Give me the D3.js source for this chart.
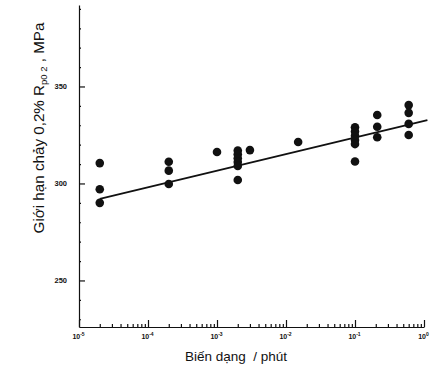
<!DOCTYPE html>
<html><head><meta charset="utf-8">
<script src="https://cdn.jsdelivr.net/npm/d3@7"></script>
<style>body{margin:0;background:#fff}svg{display:block}text{font-family:"Liberation Sans",Arial,sans-serif;fill:#111}</style>
</head><body>
<svg id="c" width="436" height="375"></svg>
<script>
// Data
const strainRate = [2e-5,2e-5,2e-5, 2e-4,2e-4,2e-4, 1e-3, 2e-3,2e-3,2e-3,2e-3,2e-3,2e-3, 3e-3, 1.5e-2,
  1e-1,1e-1,1e-1,1e-1,1e-1,1e-1, 2.1e-1,2.1e-1,2.1e-1, 6e-1,6e-1,6e-1,6e-1];
const yieldStress = [310.5,297,290, 311.2,306.6,299.7, 316.2, 317,315,313,311,309,301.8, 317.2, 321.4,
  329,326.8,324.6,322.4,320.3,311.3, 335.3,329.2,323.8, 340.4,336.4,330.7,325];
const fitRate = [2e-5, 1.12];
const fitStress = [292, 332.7];
const xMajorTicks = [1e-5,1e-4,1e-3,1e-2,1e-1,1];
const xTickExp = ["-5","-4","-3","-2","-1","0"];
const yMajorTicks = [250,300,350];
const yLabel = "Giới hạn chảy 0,2% R";
const yLabelSub = "p0 2";
const yLabelEnd = " , MPa";
const xLabel = "Biến dạng\u00a0\u00a0/ phút";

const svg = d3.select("#c");
const x = d3.scaleLog().domain([1e-5, 1]).range([79, 424]);
const y = d3.scaleLinear().domain([226, 392]).range([327, 5]);

// minor ticks
const xMinor = [];
for (let e = -5; e < 0; e++) for (let m = 2; m <= 9; m++) xMinor.push(m * Math.pow(10, e));
const yMinor = d3.range(230, 391, 10).filter(v => v % 50 !== 0);

const gx = svg.append("g").attr("color", "#111").attr("transform", `translate(0,${y.range()[0]})`);
gx.call(d3.axisBottom(x).tickValues(xMinor).tickSize(-3).tickFormat("")).call(g => g.select(".domain").remove());
gx.append("g").call(d3.axisBottom(x).tickValues(xMajorTicks).tickSize(-7).tickSizeOuter(0).tickPadding(7).tickFormat(""))
  .call(g => g.selectAll(".tick text").each(function(d, i) {
    const t = d3.select(this).attr("font-size", 7).attr("font-weight", "bold").attr("dy", "0.71em").attr("dx", "-1");
    t.text("10");
    t.append("tspan").attr("dy", "-2.5").attr("font-size", 5).text(xTickExp[i]);
  }));
gx.selectAll("line,path").attr("stroke", "#111").attr("stroke-width", 1.2);

const gy = svg.append("g").attr("color", "#111").attr("transform", `translate(${x.range()[0]},0)`);
gy.call(d3.axisLeft(y).tickValues(yMinor).tickSize(-2).tickFormat("")).call(g => g.select(".domain").remove());
gy.append("g").call(d3.axisLeft(y).tickValues(yMajorTicks).tickSize(-6).tickSizeOuter(0).tickPadding(12).tickFormat(d3.format("d")))
  .call(g => g.selectAll(".tick text").attr("font-size", 7.5).attr("font-weight", "bold"));
gy.selectAll("line,path").attr("stroke", "#111").attr("stroke-width", 1.2);

// fit line
svg.append("line")
  .attr("x1", x(fitRate[0])).attr("y1", y(fitStress[0]))
  .attr("x2", x(fitRate[1])).attr("y2", y(fitStress[1]))
  .attr("stroke", "#111").attr("stroke-width", 1.8);

// points
svg.append("g").selectAll("circle").data(strainRate).join("circle")
  .attr("cx", d => x(d)).attr("cy", (d, i) => y(yieldStress[i])).attr("r", 4.3).attr("fill", "#111");

// labels
const yl = svg.append("text").attr("transform", "translate(44,128) rotate(-90)")
  .attr("text-anchor", "middle").attr("font-size", 15.2);
yl.append("tspan").text(yLabel);
yl.append("tspan").attr("font-size", 9.5).attr("dy", 3).text(yLabelSub);
yl.append("tspan").attr("dy", -3).text(yLabelEnd);

svg.append("text").attr("x", 236).attr("y", 361).attr("text-anchor", "middle").attr("font-size", 13.5).text(xLabel);
</script>
</body></html>
